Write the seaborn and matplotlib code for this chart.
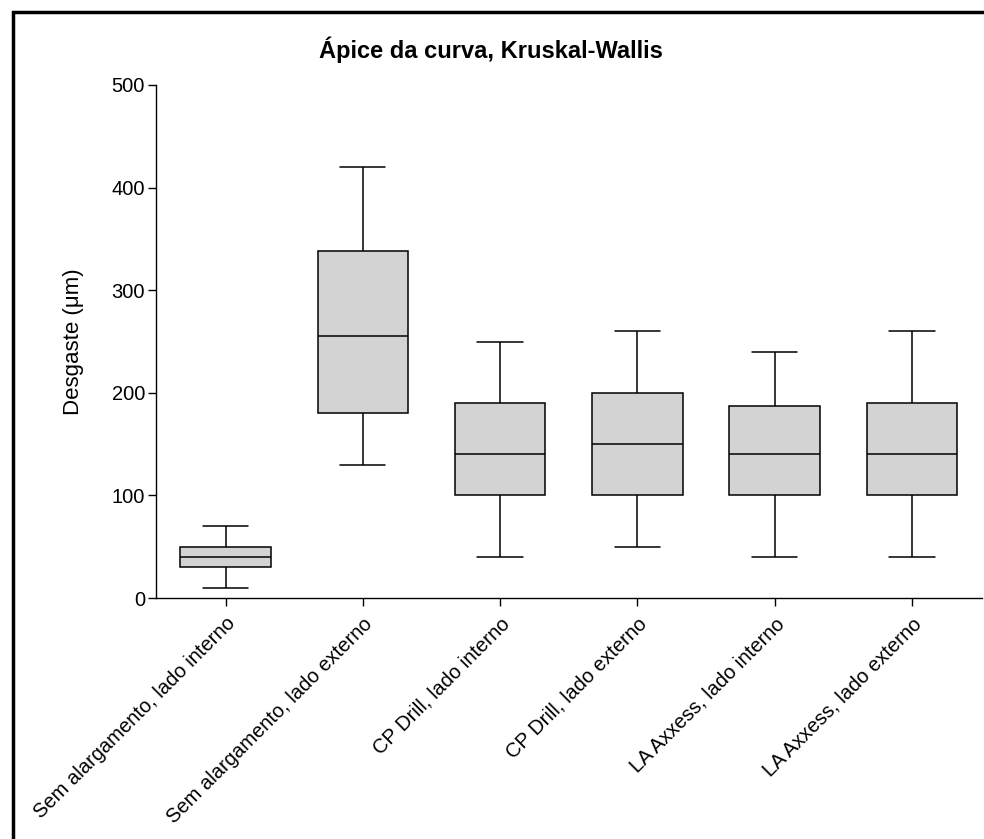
import numpy as np
import pandas as pd
import seaborn as sns
import matplotlib
matplotlib.use("Agg")
import matplotlib.pyplot as plt
from matplotlib.patches import Rectangle

categories = [
    "Sem alargamento, lado interno",
    "Sem alargamento, lado externo",
    "CP Drill, lado interno",
    "CP Drill, lado externo",
    "LA Axxess, lado interno",
    "LA Axxess, lado externo",
]
# five-number summaries: min, Q1, median, Q3, max
mins    = [10, 130, 40, 50, 40, 40]
q1s     = [30, 180, 100, 100, 100, 100]
medians = [40, 255, 140, 150, 140, 140]
q3s     = [50, 338, 190, 200, 187, 190]
maxs    = [70, 420, 250, 260, 240, 260]
yticks = [0, 100, 200, 300, 400, 500]

rows = []
for i, c in enumerate(categories):
    for v in (mins[i], q1s[i], medians[i], q3s[i], maxs[i]):
        rows.append({"grupo": c, "desgaste": v})
df = pd.DataFrame(rows)

sns.set_theme(style="ticks")
plt.rcParams["font.family"] = ["Liberation Sans", "DejaVu Sans"]

fig = plt.figure(figsize=(9.84, 8.39), dpi=100)
W, H = 984, 839
ax = fig.add_axes([155.5 / W, 1 - 598 / H, (982 - 155.5) / W, (598 - 85) / H])

sns.boxplot(
    data=df, x="grupo", y="desgaste", order=categories, ax=ax,
    whis=(0, 100), width=0.66, color="#d3d3d3", saturation=1,
    linecolor="black", linewidth=1.1, fliersize=0,
)

ax.set_xlim(-0.51, 5.51)
ax.set_ylim(0, 500)
ax.set_yticks(yticks)
ax.set_yticklabels([str(t) for t in yticks], fontsize=14.5)
ax.set_xticks(range(len(categories)))
ax.set_xticklabels(categories, rotation=45, ha="right", rotation_mode="anchor", fontsize=14.5)
ax.tick_params(axis="both", direction="out", length=5.5, width=1.0, color="black", labelcolor="black", pad=2)
ax.tick_params(axis="x", pad=6)
sns.despine(ax=ax)
for s in ("left", "bottom"):
    ax.spines[s].set_linewidth(1.0)
    ax.spines[s].set_color("black")
ax.set_xlabel("")
ax.set_ylabel("Desgaste (μm)", fontsize=16, labelpad=20, color="black")

fig.text(491 / W, 1 - 50 / H, "Ápice da curva, Kruskal-Wallis", ha="center", va="center",
         fontsize=17, fontweight="bold", color="black")

# outer frame (cropped at right/bottom)
fig.patches.append(Rectangle((12.5 / W, -0.1), 1.2, 1 - 12.5 / H + 0.1, transform=fig.transFigure,
                             fill=False, edgecolor="black", linewidth=2.5, zorder=10))

fig.savefig("out.png", dpi=100)
